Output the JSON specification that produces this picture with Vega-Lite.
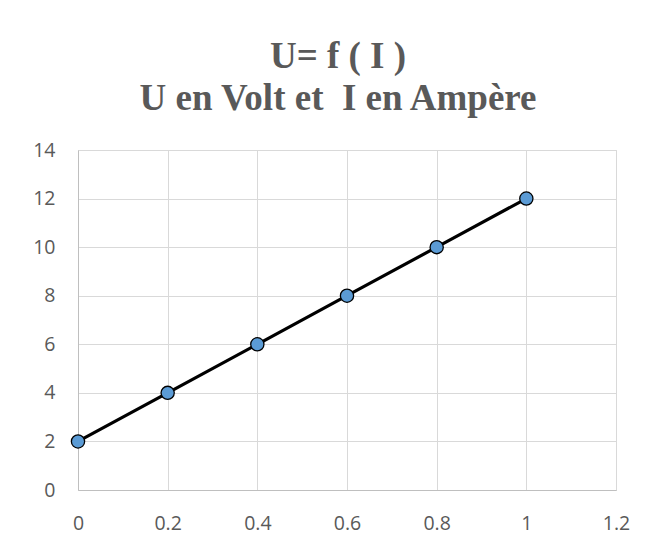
{
  "$schema": "https://vega.github.io/schema/vega-lite/v6.json",
  "width": 538,
  "height": 340,
  "autosize": {"type": "none"},
  "padding": {"left": 78, "top": 150, "right": 48, "bottom": 55},
  "background": "white",
  "title": {
    "text": ["U= f ( I )", "U en Volt et \u00a0I en Ampère"],
    "font": "Liberation Serif",
    "fontWeight": "bold",
    "fontSize": 37,
    "color": "#595959",
    "lineHeight": 42,
    "anchor": "middle",
    "frame": "group",
    "dx": -9,
    "offset": 22
  },
  "data": {
    "values": [
      {"I": 0, "U": 2},
      {"I": 0.2, "U": 4},
      {"I": 0.4, "U": 6},
      {"I": 0.6, "U": 8},
      {"I": 0.8, "U": 10},
      {"I": 1, "U": 12}
    ]
  },
  "encoding": {
    "x": {
      "field": "I",
      "type": "quantitative",
      "scale": {"domain": [0, 1.2], "nice": false, "zero": false},
      "axis": {"title": null, "values": [0, 0.2, 0.4, 0.6, 0.8, 1, 1.2], "format": "~g", "labelPadding": 24, "labelFlush": false}
    },
    "y": {
      "field": "U",
      "type": "quantitative",
      "scale": {"domain": [0, 14], "nice": false},
      "axis": {"title": null, "values": [0, 2, 4, 6, 8, 10, 12, 14], "labelPadding": 23}
    }
  },
  "layer": [
    {"mark": {"type": "line", "color": "black", "strokeWidth": 3.2}},
    {"mark": {"type": "point", "filled": true, "fill": "#5b9bd5", "stroke": "black", "strokeWidth": 1.3, "size": 175, "opacity": 1}}
  ],
  "config": {
    "view": {"stroke": "#d9d9d9", "strokeWidth": 1},
    "axis": {
      "grid": true,
      "gridColor": "#d9d9d9",
      "gridWidth": 1,
      "domain": true,
      "domainColor": "#bfbfbf",
      "domainWidth": 1,
      "ticks": false,
      "labelFont": "Open Sans",
      "labelFontSize": 19.5,
      "labelColor": "#595959",
      "labelOverlap": false
    }
  }
}
